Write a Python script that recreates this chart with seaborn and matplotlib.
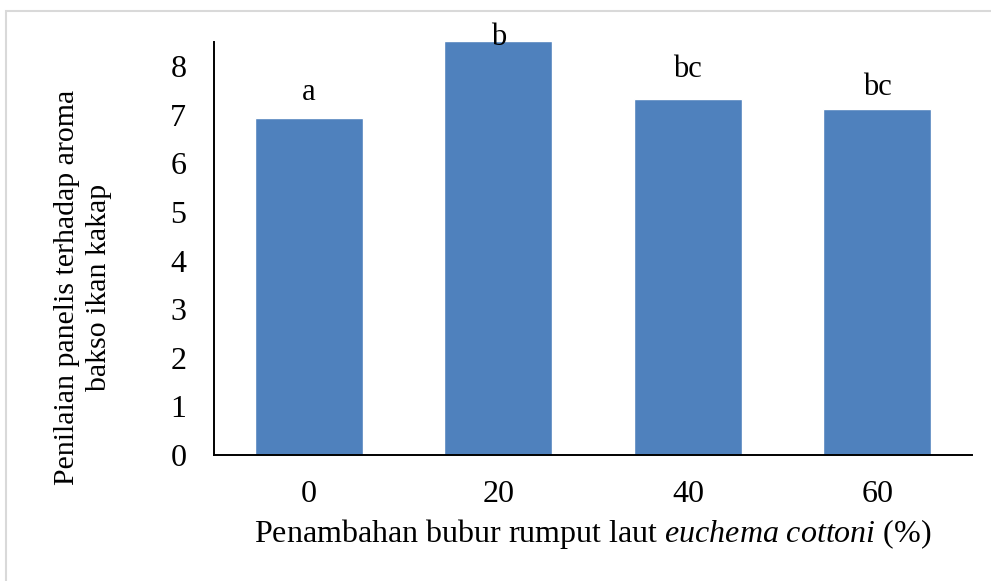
import matplotlib
matplotlib.use("Agg")
import pandas as pd
import seaborn as sns
from matplotlib import pyplot as plt
from matplotlib.patches import Rectangle

# data
levels = ["0", "20", "40", "60"]
scores = [6.93, 8.52, 7.32, 7.11]
letters = ["a", "b", "bc", "bc"]
letter_pad = [26, 3, 30, 22]  # px above each bar top

sns.set_theme(style="white")
plt.rcParams["font.family"] = ["Liberation Serif", "DejaVu Serif"]
plt.rcParams["mathtext.fontset"] = "custom"
plt.rcParams["mathtext.rm"] = "Liberation Serif"
plt.rcParams["mathtext.it"] = "Liberation Serif:italic"
plt.rcParams["text.color"] = "black"
plt.rcParams["axes.labelcolor"] = "black"

df = pd.DataFrame({"level": levels, "score": scores})

fig = plt.figure(figsize=(9.91, 5.81), dpi=100)
ax = fig.add_axes([0.216, 0.217, 0.765, 0.711])

sns.barplot(data=df, x="level", y="score", color="#4F81BD", saturation=1,
            width=0.57, ax=ax, errorbar=None)

ax.set_ylim(0, 8.5)
ax.set_yticks(range(0, 9))
ax.set_xlim(-0.5, 3.5)
ax.tick_params(axis="both", length=0, labelsize=23, colors="black")
ax.tick_params(axis="y", pad=20)
ax.tick_params(axis="x", pad=18)

for side in ["top", "right"]:
    ax.spines[side].set_visible(False)
for side in ["left", "bottom"]:
    ax.spines[side].set_color("black")
    ax.spines[side].set_linewidth(1.4)

ax.set_ylabel("")
ax.set_xlabel(r"Penambahan bubur rumput laut $\it{euchema\ cottoni}$ (%)",
              fontsize=23, color="black", labelpad=6)

fig.text(83 / 991, 1 - 287 / 581,
         "Penilaian panelis terhadap aroma\nbakso ikan kakap",
         rotation=90, ha="center", va="center", multialignment="center",
         fontsize=21.5, linespacing=1.3, color="black")

for i, (val, lab) in enumerate(zip(scores, letters)):
    ax.annotate(lab, (i, val), xytext=(0, letter_pad[i] * 0.72),
                textcoords="offset points", ha="center", va="center",
                fontsize=22, color="black", annotation_clip=False)

# light frame of the chart area (only left and top edges show)
fig.patches.append(Rectangle((5.5 / 991, -0.1), 1.2, 1 - 10.5 / 581 + 0.1,
                             transform=fig.transFigure, fill=False,
                             edgecolor="#d9d9d9", linewidth=1.5))

plt.savefig("out.png", dpi=100)
plt.close()
